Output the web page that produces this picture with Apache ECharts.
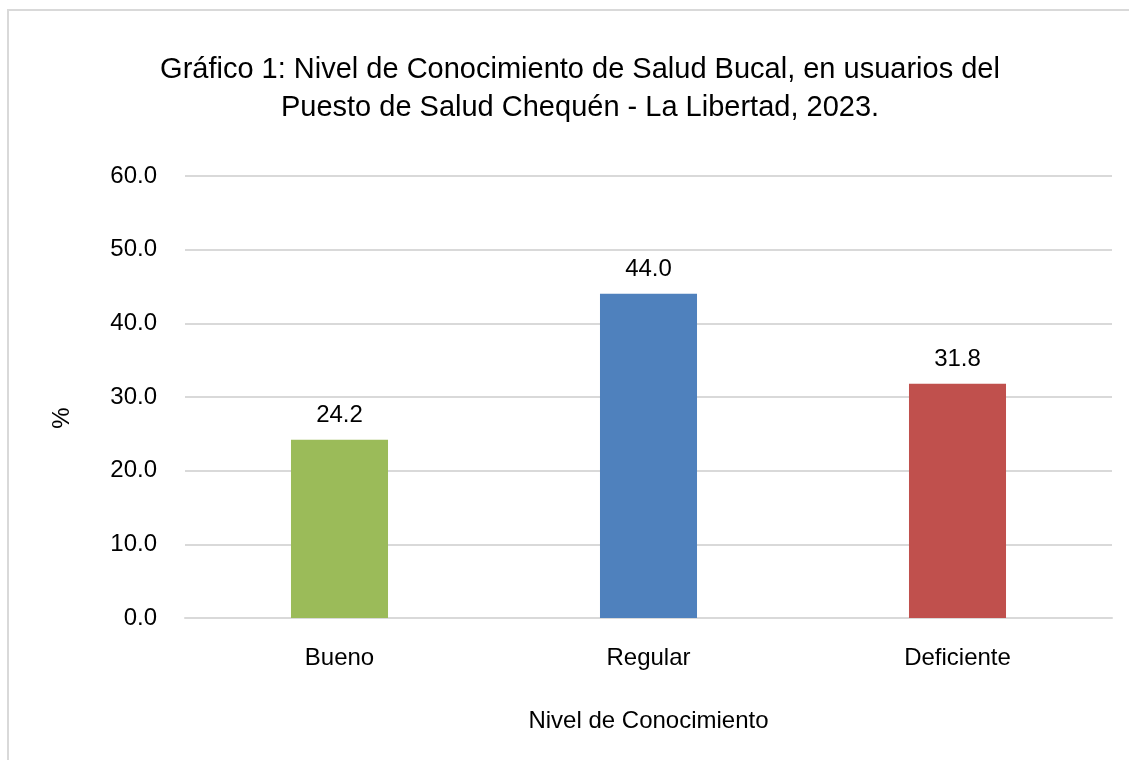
<!DOCTYPE html>
<html>
<head>
<meta charset="utf-8">
<script src="https://cdn.jsdelivr.net/npm/echarts@6/dist/echarts.min.js"></script>
<style>
html,body{margin:0;padding:0;background:#fff;}
#chart{width:1129px;height:760px;}
</style>
</head>
<body>
<div id="chart"></div>
<script>
const categories = ["Bueno", "Regular", "Deficiente"];
const values = [24.2, 44.0, 31.8];
const barColors = ["#9BBB59", "#4F81BD", "#C0504D"];
const titleLines = ["Gráfico 1: Nivel de Conocimiento de Salud Bucal, en usuarios del", "Puesto de Salud Chequén - La Libertad, 2023."];
const yAxisName = "%";
const xAxisName = "Nivel de Conocimiento";

const FONT = '"Liberation Sans", Arial, sans-serif';
const chart = echarts.init(document.getElementById('chart'), null, {renderer: 'canvas'});
chart.setOption({
  backgroundColor: '#fff',
  animation: false,
  graphic: [{
    type: 'rect',
    shape: {x: 8, y: 10, width: 1200, height: 800},
    style: {fill: 'none', stroke: '#d9d9d9', lineWidth: 2},
    silent: true
  }, {
    type: 'text', x: 62, y: 418, rotation: Math.PI / 2,
    style: {text: yAxisName, font: '24px ' + FONT, fill: '#000', align: 'center', verticalAlign: 'middle'},
    silent: true
  }],
  title: {
    text: titleLines.join('\n'),
    left: 575, top: 46, textAlign: 'center',
    textStyle: {fontFamily: FONT, fontSize: 29, fontWeight: 'normal', color: '#000', lineHeight: 38}
  },
  grid: {left: 185, right: 17, top: 176, bottom: 142, containLabel: false},
  xAxis: {
    type: 'category', data: categories,
    name: xAxisName, nameLocation: 'middle', nameGap: 91,
    nameTextStyle: {fontFamily: FONT, fontSize: 24, color: '#000'},
    axisLine: {show: true, lineStyle: {color: '#d9d9d9', width: 2}},
    axisTick: {show: false},
    axisLabel: {fontFamily: FONT, fontSize: 24, color: '#000', margin: 28}
  },
  yAxis: {
    type: 'value', min: 0, max: 60, interval: 10,
    axisLine: {show: false}, axisTick: {show: false},
    splitLine: {lineStyle: {color: '#d9d9d9', width: 2}},
    axisLabel: {fontFamily: FONT, fontSize: 24, color: '#000', margin: 28,
      formatter: v => v.toFixed(1)}
  },
  series: [{
    type: 'bar', barWidth: '31.4%',
    data: values.map((v, i) => ({value: v, itemStyle: {color: barColors[i]}})),
    label: {show: true, position: 'top', distance: 12, fontFamily: FONT, fontSize: 24, color: '#000',
      formatter: p => p.value.toFixed(1)}
  }]
});
</script>
</body>
</html>
